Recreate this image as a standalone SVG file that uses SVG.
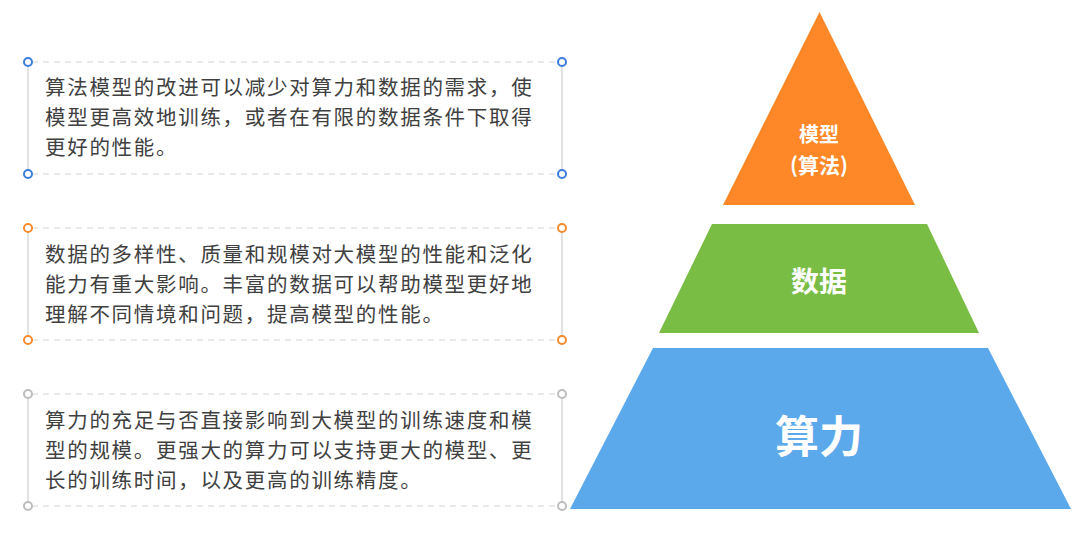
<svg xmlns="http://www.w3.org/2000/svg" width="1080" height="539" viewBox="0 0 1080 539">
<style>
.bg{fill:#ffffff}
.side{stroke:#cfcfcf;stroke-width:1.2;fill:none}
.dash{stroke:#d4d4d4;stroke-width:1.2;stroke-dasharray:6 5;fill:none}
.desc{font-family:"Noto Sans CJK SC","Noto Sans",sans-serif;font-size:20.5px;letter-spacing:1.7px;fill:#404040}
.lbl{font-family:"Noto Sans CJK SC","Noto Sans",sans-serif;font-weight:bold;fill:#ffffff;text-anchor:middle}
.h{fill:#ffffff;stroke-width:2}
</style>
<rect class="bg" x="0" y="0" width="1080" height="539"/>
<g id="connectors"></g>
<g id="box1">
<line class="side" x1="28" y1="62" x2="28" y2="174"/>
<line class="side" x1="562" y1="62" x2="562" y2="174"/>
<line class="dash" x1="32" y1="62" x2="558" y2="62"/>
<line class="dash" x1="32" y1="174" x2="558" y2="174"/>
<circle class="h" cx="28" cy="62" r="4" stroke="#3b7ddd"/>
<circle class="h" cx="562" cy="62" r="4" stroke="#3b7ddd"/>
<circle class="h" cx="28" cy="174" r="4" stroke="#3b7ddd"/>
<circle class="h" cx="562" cy="174" r="4" stroke="#3b7ddd"/>
<text class="desc" x="45" y="95">算法模型的改进可以减少对算力和数据的需求，使</text>
<text class="desc" x="45" y="125">模型更高效地训练，或者在有限的数据条件下取得</text>
<text class="desc" x="45" y="155">更好的性能。</text>
</g>
<g id="box2">
<line class="side" x1="28" y1="228" x2="28" y2="340"/>
<line class="side" x1="562" y1="228" x2="562" y2="340"/>
<line class="dash" x1="32" y1="228" x2="558" y2="228"/>
<line class="dash" x1="32" y1="340" x2="558" y2="340"/>
<circle class="h" cx="28" cy="228" r="4" stroke="#f28a2e"/>
<circle class="h" cx="562" cy="228" r="4" stroke="#f28a2e"/>
<circle class="h" cx="28" cy="340" r="4" stroke="#f28a2e"/>
<circle class="h" cx="562" cy="340" r="4" stroke="#f28a2e"/>
<text class="desc" x="45" y="262">数据的多样性、质量和规模对大模型的性能和泛化</text>
<text class="desc" x="45" y="292">能力有重大影响。丰富的数据可以帮助模型更好地</text>
<text class="desc" x="45" y="322">理解不同情境和问题，提高模型的性能。</text>
</g>
<g id="box3">
<line class="side" x1="28" y1="394" x2="28" y2="506"/>
<line class="side" x1="562" y1="394" x2="562" y2="506"/>
<line class="dash" x1="32" y1="394" x2="558" y2="394"/>
<line class="dash" x1="32" y1="506" x2="558" y2="506"/>
<circle class="h" cx="28" cy="394" r="4" stroke="#bdbdbd"/>
<circle class="h" cx="562" cy="394" r="4" stroke="#bdbdbd"/>
<circle class="h" cx="28" cy="506" r="4" stroke="#bdbdbd"/>
<circle class="h" cx="562" cy="506" r="4" stroke="#bdbdbd"/>
<text class="desc" x="45" y="428">算力的充足与否直接影响到大模型的训练速度和模</text>
<text class="desc" x="45" y="458">型的规模。更强大的算力可以支持更大的模型、更</text>
<text class="desc" x="45" y="488">长的训练时间，以及更高的训练精度。</text>
</g>
<g id="model">
<polygon points="819.5,12 723,205 915,205" fill="#fe8827"/>
<text class="lbl" x="819" y="142" font-size="20">模型</text>
<text class="lbl" x="819" y="173" font-size="21">(算法)</text>
</g>
<g id="data">
<polygon points="712,224 927,224 979,333 659,333" fill="#79bd44"/>
<text class="lbl" x="819" y="292" font-size="28">数据</text>
</g>
<g id="compute">
<polygon points="653,348 988,348 1071,509 570,509" fill="#5ba8ea"/>
<text class="lbl" x="819" y="453" font-size="44">算力</text>
</g>
</svg>
